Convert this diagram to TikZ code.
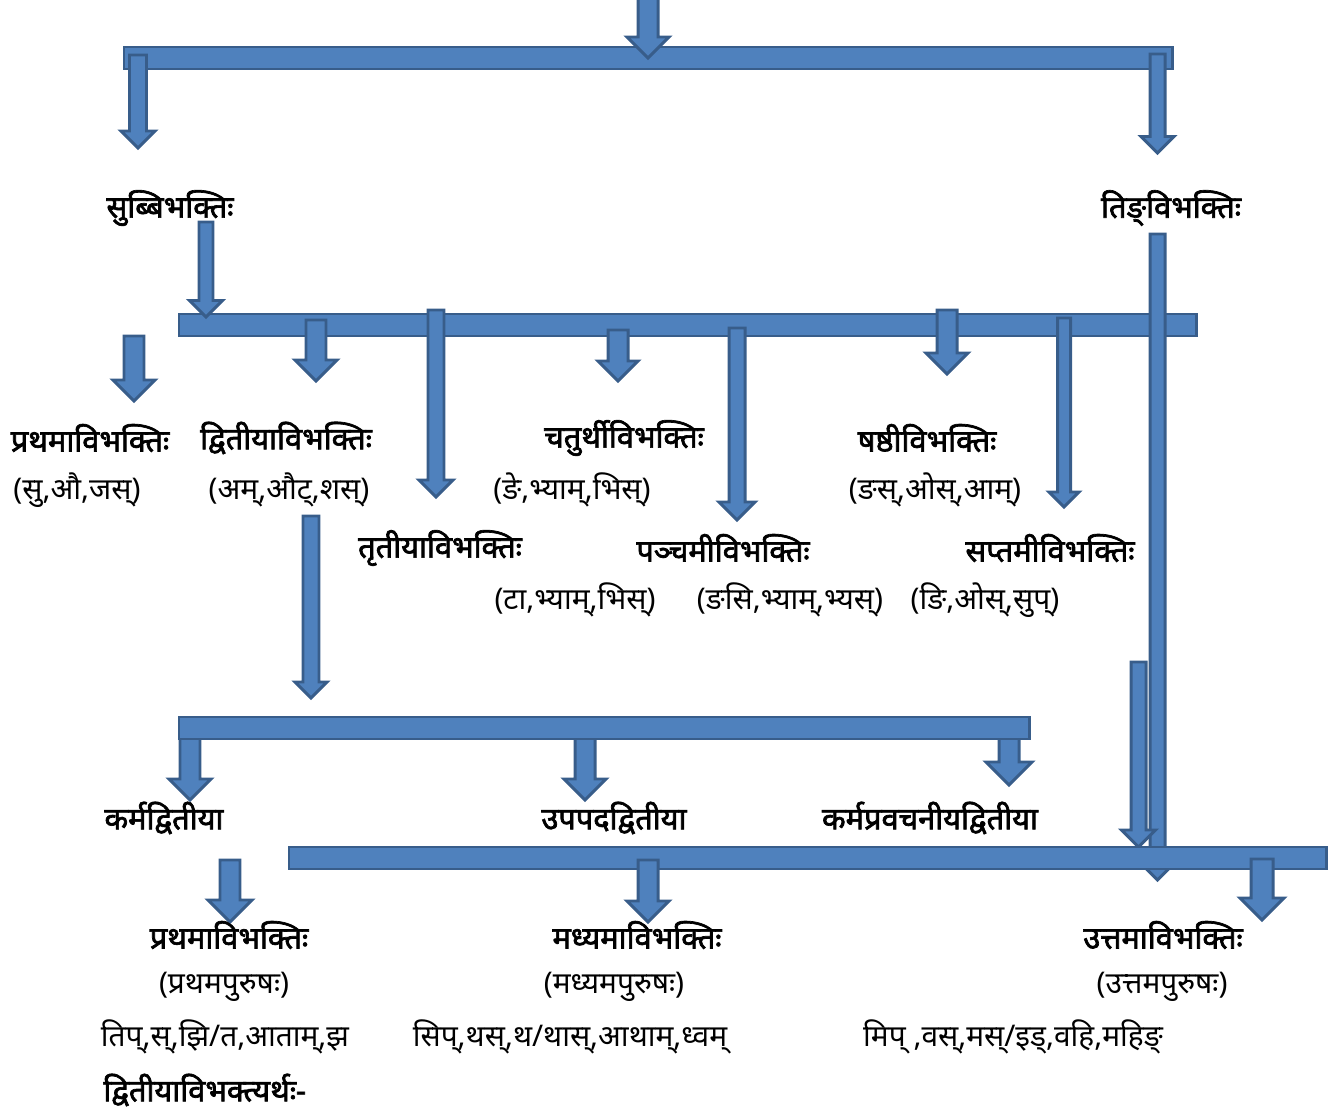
\documentclass[tikz,border=0pt]{standalone}
\usepackage{fontspec}
\setmainfont{Noto Sans}[Script=Devanagari, BoldFont=Noto Sans, BoldFeatures={FakeBold=2.2}]
\definecolor{barblue}{RGB}{79,129,189}
\definecolor{edgeblue}{RGB}{56,93,138}
\usetikzlibrary{calc}

\tikzset{
  blockfill/.style={fill=barblue, draw=edgeblue, line width=1.7pt, line join=miter},
  lblbold/.style={inner sep=0pt, font=\fontsize{17.5}{20}\selectfont\bfseries},
  lbltext/.style={inner sep=0pt, font=\fontsize{17}{20}\selectfont},
}
% block arrow: centre x, top y, tip y, shaft half width, head half width
\newcommand{\blockdown}[5]{%
  \filldraw[blockfill] ({#1-#4},#2) -- ({#1+#4},#2) -- ({#1+#4},{#3-#5}) -- ({#1+#5},{#3-#5})
    -- (#1,#3) -- ({#1-#5},{#3-#5}) -- ({#1-#4},{#3-#5}) -- cycle;}
% horizontal bar: left, top, right, bottom
\newcommand{\blockbar}[4]{\filldraw[blockfill] (#1,#2) rectangle (#3,#4);}

\begin{document}
\begin{tikzpicture}[x=0.02cm, y=-0.02cm]
  \useasboundingbox (0,0) rectangle (1342,1111);

  % top split
  \blockbar{124}{47}{1172}{69}
  \blockdown{648}{-5}{58}{10}{21}
  \blockdown{138}{55}{148}{8.5}{17}
  \blockdown{1157.5}{54}{153}{7.5}{16.5}

  \node[lblbold] (sup) at (170,208) {सुब्बिभक्तिः};
  \node[lblbold] (tin) at (1171,208) {तिङ्विभक्तिः};

  % sup branch
  \blockbar{179}{314}{1196}{336}
  \blockdown{206}{222}{317}{7}{16.5}
  \blockdown{134}{336}{401}{10}{21}
  \blockdown{316}{320}{381}{10}{21}
  \blockdown{436}{310}{497}{8}{17}
  \blockdown{618}{330}{381}{10}{20}
  \blockdown{737}{328}{520}{8}{18}
  \blockdown{947}{310}{374}{10}{21}
  \blockdown{1064}{318}{507}{6.5}{15}

  % tin branch
  \blockdown{1157.5}{234}{880}{7.5}{15}
  \blockdown{1138.5}{662}{847}{7.5}{17}

  \node[lblbold] (prathama) at (90,438) {प्रथमाविभक्तिः};
  \node[lbltext] (prathamasup) at (77,490) {(सु,औ,जस्)};
  \node[lblbold] (dvitiya) at (286,438) {द्वितीयाविभक्तिः};
  \node[lbltext] (dvitiyasup) at (289,490) {(अम्,औट्,शस्)};
  \node[lblbold] (caturthi) at (624,438) {चतुर्थीविभक्तिः};
  \node[lbltext] (caturthisup) at (572,490) {(ङे,भ्याम्,भिस्)};
  \node[lblbold] (sasthi) at (927,438) {षष्ठीविभक्तिः};
  \node[lbltext] (sasthisup) at (935,490) {(ङस्,ओस्,आम्)};
  \node[lblbold] (trtiya) at (440,548) {तृतीयाविभक्तिः};
  \node[lbltext] (trtiyasup) at (575,600) {(टा,भ्याम्,भिस्)};
  \node[lblbold] (pancami) at (723,548) {पञ्चमीविभक्तिः};
  \node[lbltext] (pancamisup) at (790,600) {(ङसि,भ्याम्,भ्यस्)};
  \node[lblbold] (saptami) at (1050,548) {सप्तमीविभक्तिः};
  \node[lbltext] (saptamisup) at (985,600) {(ङि,ओस्,सुप्)};

  % dvitiya split
  \blockdown{311}{516}{698}{8}{16}
  \blockdown{190}{728}{800}{10}{21}
  \blockdown{585}{728}{800}{10}{21}
  \blockdown{1009}{728}{785}{10}{23}
  \blockbar{179}{717}{1029}{739}

  \node[lblbold] (karma) at (164,818) {कर्मद्वितीया};
  \node[lblbold] (upapada) at (614,818) {उपपदद्वितीया};
  \node[lblbold] (pravacaniya) at (930,818) {कर्मप्रवचनीयद्वितीया};

  % purusha split
  \blockbar{289}{847}{1326}{869}
  \blockdown{230}{860}{922}{10}{22}
  \blockdown{648}{860}{922}{10}{21}
  \blockdown{1262}{859}{920}{11}{22}

  \node[lblbold] (prathamatin) at (229,935) {प्रथमाविभक्तिः};
  \node[lbltext] (prathamapur) at (224,987) {(प्रथमपुरुषः)};
  \node[lbltext] (prathamapra) at (225,1037) {तिप्,स्,झि/त,आताम्,झ};
  \node[lblbold, anchor=west] (artha) at (103,1090) {द्वितीयाविभक्त्यर्थः-};
  \node[lblbold] (madhyama) at (637,935) {मध्यमाविभक्तिः};
  \node[lbltext] (madhyamapur) at (614,987) {(मध्यमपुरुषः)};
  \node[lbltext] (madhyamapra) at (570,1037) {सिप्,थस्,थ/थास्,आथाम्,ध्वम्};
  \node[lblbold] (uttama) at (1163,935) {उत्तमाविभक्तिः};
  \node[lbltext] (uttamapur) at (1162,987) {(उत्तमपुरुषः)};
  \node[lbltext] (uttamapra) at (1013,1037) {मिप् ,वस्,मस्/इड्,वहि,महिङ्};
\end{tikzpicture}
\end{document}
